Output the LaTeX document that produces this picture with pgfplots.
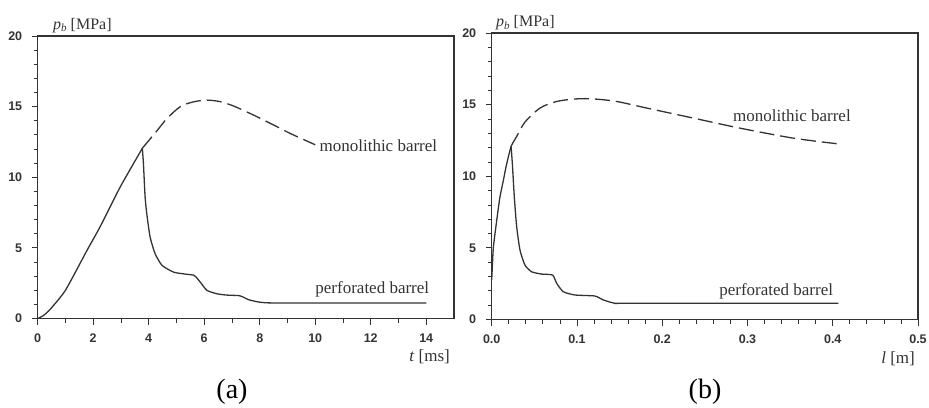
\documentclass[border=0pt]{standalone}
\usepackage{pgfplots}
\pgfplotsset{compat=1.18}
\usepackage{fontspec}
\setmainfont{Liberation Serif}
\setsansfont{Liberation Sans}
\definecolor{ink}{gray}{0.2}

\pgfplotstableread{
t p
0 0
0.2 0.2
0.45 0.65
1 2.0
1.77 4.8
2.25 6.5
2.97 9.3
3.77 12.05
}\leftrise

\pgfplotstableread{
t p
3.77 12.05
3.81 10.97
3.87 8.6
3.93 7.42
4.05 5.77
4.23 4.59
4.48 3.76
4.9 3.28
5.3 3.15
5.62 3.07
5.7 2.95
5.86 2.57
6.1 1.99
6.46 1.75
6.8 1.66
7.25 1.62
7.4 1.52
7.6 1.33
7.95 1.17
8.27 1.11
9 1.1
14 1.1
}\leftperf

\pgfplotstableread{
t p
3.77 12.05
4.3 13.3
4.66 14.16
5.14 15.0
5.62 15.34
6.1 15.46
6.58 15.35
7.06 15.04
7.78 14.4
8.5 13.7
9.1 13.1
10.0 12.3
}\leftmono

\pgfplotstableread{
l p
0 2.75
0.001 4.0
0.002 5.07
0.0059 6.93
0.0097 8.56
0.0137 9.72
0.0164 10.54
0.0195 11.35
0.0227 12.09
}\rightrise

\pgfplotstableread{
l p
0.0227 12.09
0.0242 10.9
0.0265 8.56
0.0293 6.47
0.0332 4.84
0.039 3.8
0.0469 3.33
0.0586 3.17
0.0715 3.1
0.0762 2.52
0.084 1.94
0.0977 1.71
0.121 1.64
0.131 1.36
0.1446 1.13
0.16 1.13
0.4066 1.13
}\rightperf

\pgfplotstableread{
l p
0.0227 12.09
0.0254 12.39
0.0293 12.78
0.039 13.78
0.0567 14.76
0.0762 15.22
0.0997 15.4
0.119 15.4
0.1466 15.22
0.1818 14.76
0.2365 14.06
0.291 13.36
0.3538 12.66
0.4066 12.26
}\rightmono

\pgfplotsset{
  common/.style={
    scale only axis,
    anchor=south west,
    ymin=0, ymax=20,
    ytick={0,5,10,15,20},
    minor y tick num=4,
    tick align=outside,
    tick pos=left,
    axis line style={line width=1.1pt, ink},
    every tick/.style={line width=0.8pt, ink},
    major tick length=6pt,
    minor tick length=4pt,
    tick label style={font=\fontsize{12.5}{14}\selectfont\sffamily\bfseries, text=ink},
    xticklabel style={yshift=-6pt},
    yticklabel style={xshift=-6pt},
    /pgf/number format/assume math mode=true,
    clip=false,
  },
  perf/.style={line width=1.3pt, ink, smooth, tension=0.35},
  mono/.style={line width=1.3pt, ink, smooth, tension=0.5, dash pattern=on 15pt off 6pt},
}

\begin{document}
\begin{tikzpicture}
\useasboundingbox (0,0) rectangle (929pt,-407pt);

\begin{axis}[common,
  at={(37.7pt,-318.5pt)},
  width=416.3pt, height=282.5pt,
  xmin=0, xmax=15,
  xtick={0,2,...,14},
  minor x tick num=1,
]
\addplot[perf] table[x=t,y=p] {\leftrise};
\addplot[perf] table[x=t,y=p] {\leftperf};
\addplot[mono] table[x=t,y=p] {\leftmono};
\node[anchor=west, inner sep=0pt, font=\fontsize{17}{20}\selectfont, text=ink] at (axis cs:10.15,12.2) {monolithic barrel};
\node[anchor=west, inner sep=0pt, font=\fontsize{17}{20}\selectfont, text=ink] at (axis cs:10.0,2.05) {perforated barrel};
\end{axis}

\begin{axis}[common,
  at={(491.7pt,-319.5pt)},
  width=426.3pt, height=286.5pt,
  xmin=0, xmax=0.5,
  xtick={0,0.1,...,0.5},
  minor x tick num=4,
  xticklabel style={/pgf/number format/.cd, fixed, fixed zerofill, precision=1},
]
\addplot[perf] table[x=l,y=p] {\rightrise};
\addplot[perf] table[x=l,y=p] {\rightperf};
\addplot[mono] table[x=l,y=p] {\rightmono};
\node[anchor=west, inner sep=0pt, font=\fontsize{17}{20}\selectfont, text=ink] at (axis cs:0.283,14.25) {monolithic barrel};
\node[anchor=west, inner sep=0pt, font=\fontsize{17}{20}\selectfont, text=ink] at (axis cs:0.2667,1.94) {perforated barrel};
\end{axis}

% axis titles
\node[anchor=base west, inner sep=0pt, font=\fontsize{16}{19}\selectfont, text=ink] at (53pt,-29pt) {\textit{p}\raisebox{-0.35ex}{\fontsize{11}{13}\selectfont\textit{b}} [MPa]};
\node[anchor=base west, inner sep=0pt, font=\fontsize{16}{19}\selectfont, text=ink] at (496pt,-26.7pt) {\textit{p}\raisebox{-0.35ex}{\fontsize{11}{13}\selectfont\textit{b}} [MPa]};
\node[anchor=base east, inner sep=0pt, font=\fontsize{17}{20}\selectfont, text=ink] at (450pt,-361pt) {\textit{t} [ms]};
\node[anchor=base east, inner sep=0pt, font=\fontsize{17}{20}\selectfont, text=ink] at (915pt,-363pt) {\textit{l} [m]};
% panel labels
\node[inner sep=0pt, font=\fontsize{28}{32}\selectfont, text=black] at (232pt,-392pt) {(a)};
\node[inner sep=0pt, font=\fontsize{28}{32}\selectfont, text=black] at (705pt,-392pt) {(b)};
\end{tikzpicture}
\end{document}
